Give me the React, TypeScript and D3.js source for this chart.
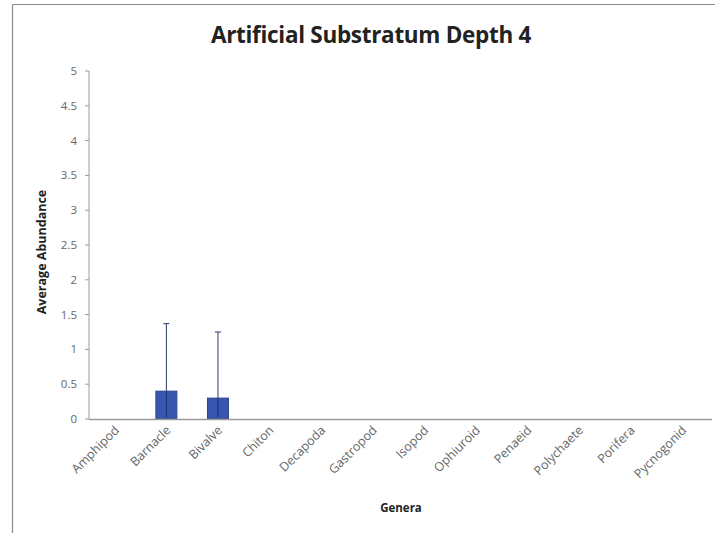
import React from "react";
import * as d3 from "d3";

const categories = ["Amphipod", "Barnacle", "Bivalve", "Chiton", "Decapoda", "Gastropod", "Isopod", "Ophiuroid", "Penaeid", "Polychaete", "Porifera", "Pycnogonid"];
const values = [0, 0.4, 0.3, 0, 0, 0, 0, 0, 0, 0, 0, 0];
const errors = [0, 0.97, 0.95, 0, 0, 0, 0, 0, 0, 0, 0, 0];
const yTicks = [0, 0.5, 1, 1.5, 2, 2.5, 3, 3.5, 4, 4.5, 5];

const W = 715;
const H = 533;
const font = "'Open Sans', 'Liberation Sans', sans-serif";

export default function App() {
  const left = 89;
  const right = 708;
  const top = 71;
  const bottom = 419;
  const step = (right - left) / categories.length;
  const xc = d3.scaleBand().domain(categories).range([left, right]);
  const y = d3.scaleLinear().domain([0, 5]).range([bottom, top]);
  const bw = 21;

  return (
    <svg width={W} height={H} style={{ position: "absolute", left: 0, top: 0, background: "#fff" }}>
      <line x1={12.5} x2={W} y1={4.5} y2={4.5} stroke="#8a8a8a" strokeWidth={1.2} />
      <line x1={12.5} x2={12.5} y1={4.5} y2={H} stroke="#8a8a8a" strokeWidth={1.2} />
      <text x={371} y={43} textAnchor="middle" fontFamily={font} fontWeight="bold" fontSize={22.5} fill="#222" letterSpacing={-0.3}>
        Artificial Substratum Depth 4
      </text>
      {/* y axis */}
      <line x1={left} x2={left} y1={top} y2={bottom} stroke="#9a9a9a" />
      {yTicks.map((t) => (
        <g key={t}>
          <line x1={left - 4} x2={left} y1={y(t)} y2={y(t)} stroke="#9a9a9a" />
          <text x={77} y={y(t) + 4} textAnchor="end" fontFamily={font} fontSize={11.5} fill="#666">
            {t}
          </text>
        </g>
      ))}
      <text transform={`translate(46,252) rotate(-90)`} textAnchor="middle" fontFamily={font} fontWeight="bold" fontSize={12.5} fill="#222">
        Average Abundance
      </text>
      {/* bars */}
      {categories.map((c, i) => {
        if (values[i] <= 0) return null;
        const cx = (xc(c) as number) + step / 2;
        return (
          <g key={c}>
            <rect x={cx - bw / 2} y={y(values[i])} width={bw} height={bottom - y(values[i])} fill="#3856b0" stroke="#2b4591" strokeWidth={1} />
            <line x1={cx} x2={cx} y1={y(values[i])} y2={y(values[i] + errors[i])} stroke="#2a3a6a" strokeWidth={1} />
            <line x1={cx} x2={cx} y1={y(values[i])} y2={bottom - 2} stroke="#1d2f6b" strokeWidth={1} />
            <line x1={cx - 3} x2={cx + 3} y1={y(values[i] + errors[i])} y2={y(values[i] + errors[i])} stroke="#2a3a6a" strokeWidth={1} />
          </g>
        );
      })}
      {/* x axis */}
      <line x1={left} x2={right + 4} y1={bottom + 0.5} y2={bottom + 0.5} stroke="#9a9a9a" strokeWidth={1.5} />
      {categories.map((c) => {
        const cx = (xc(c) as number) + step / 2;
        return (
          <text key={c} transform={`translate(${cx + 5},${bottom + 12}) rotate(-45)`} textAnchor="end" fontFamily={font} fontSize={12.5} fill="#666">
            {c}
          </text>
        );
      })}
      <text x={401} y={512} textAnchor="middle" fontFamily={font} fontWeight="bold" fontSize={11.5} fill="#222">
        Genera
      </text>
    </svg>
  );
}
